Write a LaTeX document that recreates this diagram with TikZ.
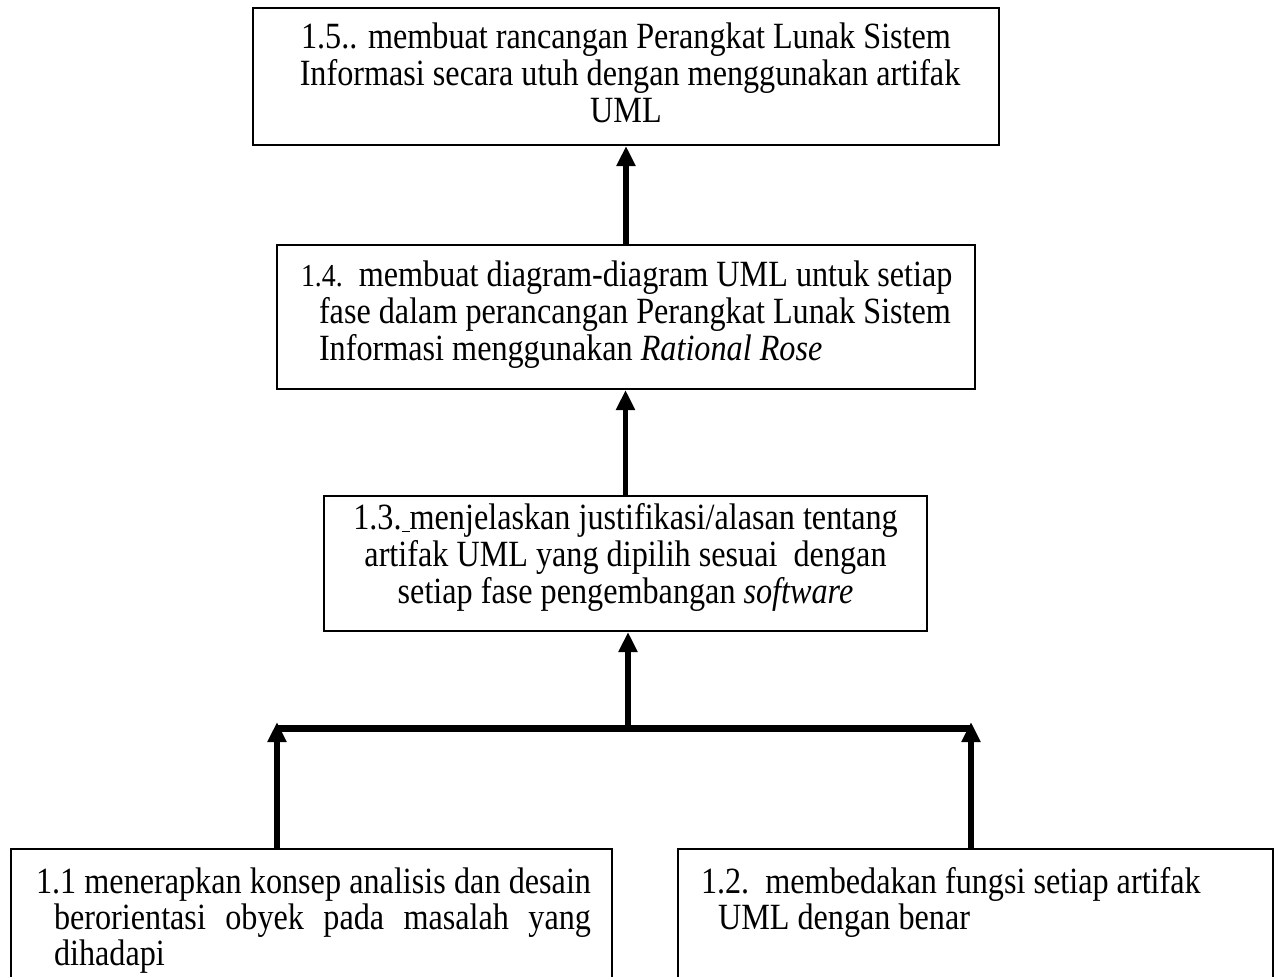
\documentclass[tikz,border=0pt]{standalone}
\usepackage{fontspec}
\setmainfont{Liberation Serif}[FakeStretch=0.87]
\usetikzlibrary{arrows.meta}

\begin{document}
\begin{tikzpicture}[x=0.5pt, y=-0.5pt,
  every node/.style={font=\fontsize{18.5pt}{18.5pt}\selectfont},
  kbox/.style={draw, line width=1pt, anchor=north west, inner sep=0pt},
  up/.style={line width=2.75pt, -{Triangle[length=10pt,width=9pt]}},
  bar/.style={line width=3.5pt}]

\useasboundingbox (0,0) rectangle (1278,976);

% Positions in pixels of the reference page (top-left corners of the boxes).
% --- Level 5 ---
\node[kbox, align=flush center, text width=373pt, text height=20pt, text depth=48.5pt]
  (k15) at (252,7)
  {1.5.. membuat rancangan Perangkat Lunak Sistem\\
   \ Informasi secara utuh dengan menggunakan artifak\\
   UML};

% --- Level 4 ---
\node[kbox, align=flush left, text width=349pt, text height=20.5pt, text depth=51.5pt]
  (k14) at (276,244)
  {\hspace*{12pt}{\fontsize{16pt}{18.5pt}\selectfont 1.4.}\ \ membuat diagram-diagram UML untuk setiap\\
   \hspace*{21pt}fase dalam perancangan Perangkat Lunak Sistem\\
   \hspace*{21pt}Informasi menggunakan \textit{Rational Rose}};

% --- Level 3 ---
\node[kbox, align=flush center, text width=301.5pt, text height=16.5pt, text depth=51pt]
  (k13) at (323,495)
  {1.3.\underline{\ }menjelaskan justifikasi/alasan tentang\\
   artifak UML yang dipilih sesuai\ \ dengan\\
   setiap fase pengembangan \textit{software}};

% --- Level 1 (bottom, cut by the page) ---
\node[kbox, align=flush left, text width=300.5pt, text height=22pt, text depth=100pt,
  font=\fontsize{18.5pt}{18.2pt}\selectfont]
  (k11) at (10,848)
  {\hspace*{12.5pt}\hbox to 277.5pt{1.1\hfill menerapkan\hfill konsep\hfill analisis\hfill dan\hfill desain}\\
   \hspace*{21.5pt}\hbox to 268.5pt{berorientasi\hfill obyek\hfill pada\hfill masalah\hfill yang}\\
   \hspace*{21.5pt}dihadapi};

\node[kbox, align=flush left, text width=297.5pt, text height=22pt, text depth=100pt,
  font=\fontsize{18.5pt}{18.2pt}\selectfont]
  (k12) at (677,848)
  {\hspace*{11.5pt}1.2.\ \ membedakan fungsi setiap artifak\\
   \hspace*{20pt}UML dengan benar};

% --- Joining bar ---
\coordinate (jL) at (277,728);
\coordinate (jR) at (971,728);
\coordinate (jM) at (628,728);
\coordinate (tipL) at (277,722);
\coordinate (tipR) at (971,722);

\draw[bar] (jL) -- (jR);

% --- Arrows ---
\draw[up] (tipL |- k11.north) -- (tipL);
\draw[up] (tipR |- k12.north) -- (tipR);
\draw[up] (jM) -- (jM |- k13.south);
\draw[up] (k13.north) -- (k13.north |- k14.south);
\draw[up] (k14.north) -- (k15.south);

\end{tikzpicture}
\end{document}
